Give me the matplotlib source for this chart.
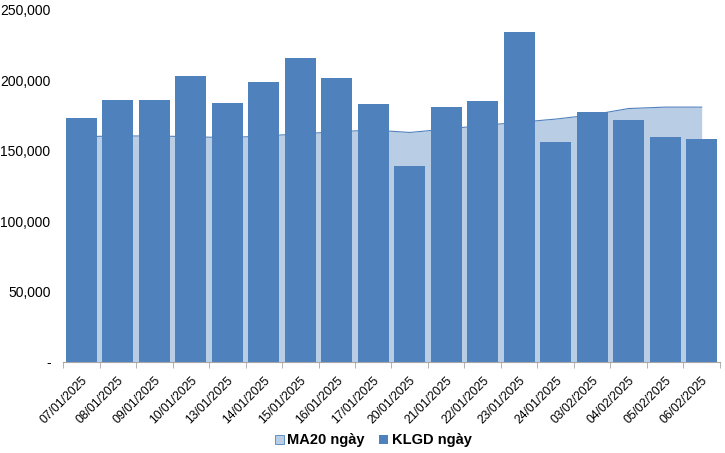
import numpy as np
import matplotlib.pyplot as plt
from matplotlib.ticker import FuncFormatter, FixedLocator
from matplotlib.patches import Patch

plt.rcParams['font.family'] = ['Liberation Sans', 'DejaVu Sans']

# du lieu
ngay = ["07/01/2025", "08/01/2025", "09/01/2025", "10/01/2025", "13/01/2025",
        "14/01/2025", "15/01/2025", "16/01/2025", "17/01/2025", "20/01/2025",
        "21/01/2025", "22/01/2025", "23/01/2025", "24/01/2025", "03/02/2025",
        "04/02/2025", "05/02/2025", "06/02/2025"]
klgd = [173000, 186000, 186000, 203000, 184000, 199000, 216000, 202000, 183000,
        139000, 181000, 185000, 234000, 156000, 177500, 172000, 160000, 158000]
ma20 = [160000, 160500, 160500, 160000, 159300, 160500, 162000, 163500, 164700,
        163000, 165400, 168000, 170200, 172500, 175500, 180000, 181000, 181000]

c_bar = "#4F81BD"
c_area = "#B9CDE5"

fig = plt.figure(figsize=(7.25, 4.53), dpi=100)
ax = fig.add_axes([0.087, 0.201, 0.906, 0.777])

x = np.arange(len(ngay))
ax.fill_between(x, 0, ma20, color=c_area, lw=0, zorder=1)
ax.plot(x, ma20, color=c_bar, lw=0.8, zorder=1)
ax.bar(x, klgd, width=0.85, color=c_bar, zorder=2)

ax.set_xlim(-0.5, len(ngay) - 0.5)
ax.set_ylim(0, 250000)
ax.set_yticks(np.arange(0, 250001, 50000))
ax.yaxis.set_major_formatter(FuncFormatter(lambda v, p: "-" if v == 0 else f"{int(v):,}"))
ax.tick_params(axis='y', length=0, labelsize=10, pad=9)

ax.set_xticks(x)
ax.set_xticklabels(ngay, rotation=45, ha='right', rotation_mode='anchor', fontsize=8.8)
ax.tick_params(axis='x', length=0, pad=9)
ax.xaxis.set_minor_locator(FixedLocator(np.arange(-0.5, len(ngay), 1)))
ax.tick_params(axis='x', which='minor', length=4, color='#A6A6A6')

for s in ['top', 'right', 'left']:
    ax.spines[s].set_visible(False)
ax.spines['bottom'].set_color('#A6A6A6')

handles = [Patch(facecolor=c_area, edgecolor=c_bar, lw=0.6, label="MA20 ngày"),
           Patch(facecolor=c_bar, label="KLGD ngày")]
fig.legend(handles=handles, loc='center', bbox_to_anchor=(0.515, 0.028), ncol=2,
           frameon=False, prop={'weight': 'bold', 'size': 10.5},
           handlelength=0.6, handleheight=0.6, handletextpad=0.25, columnspacing=1.0)

fig.savefig("out.png", dpi=100)
